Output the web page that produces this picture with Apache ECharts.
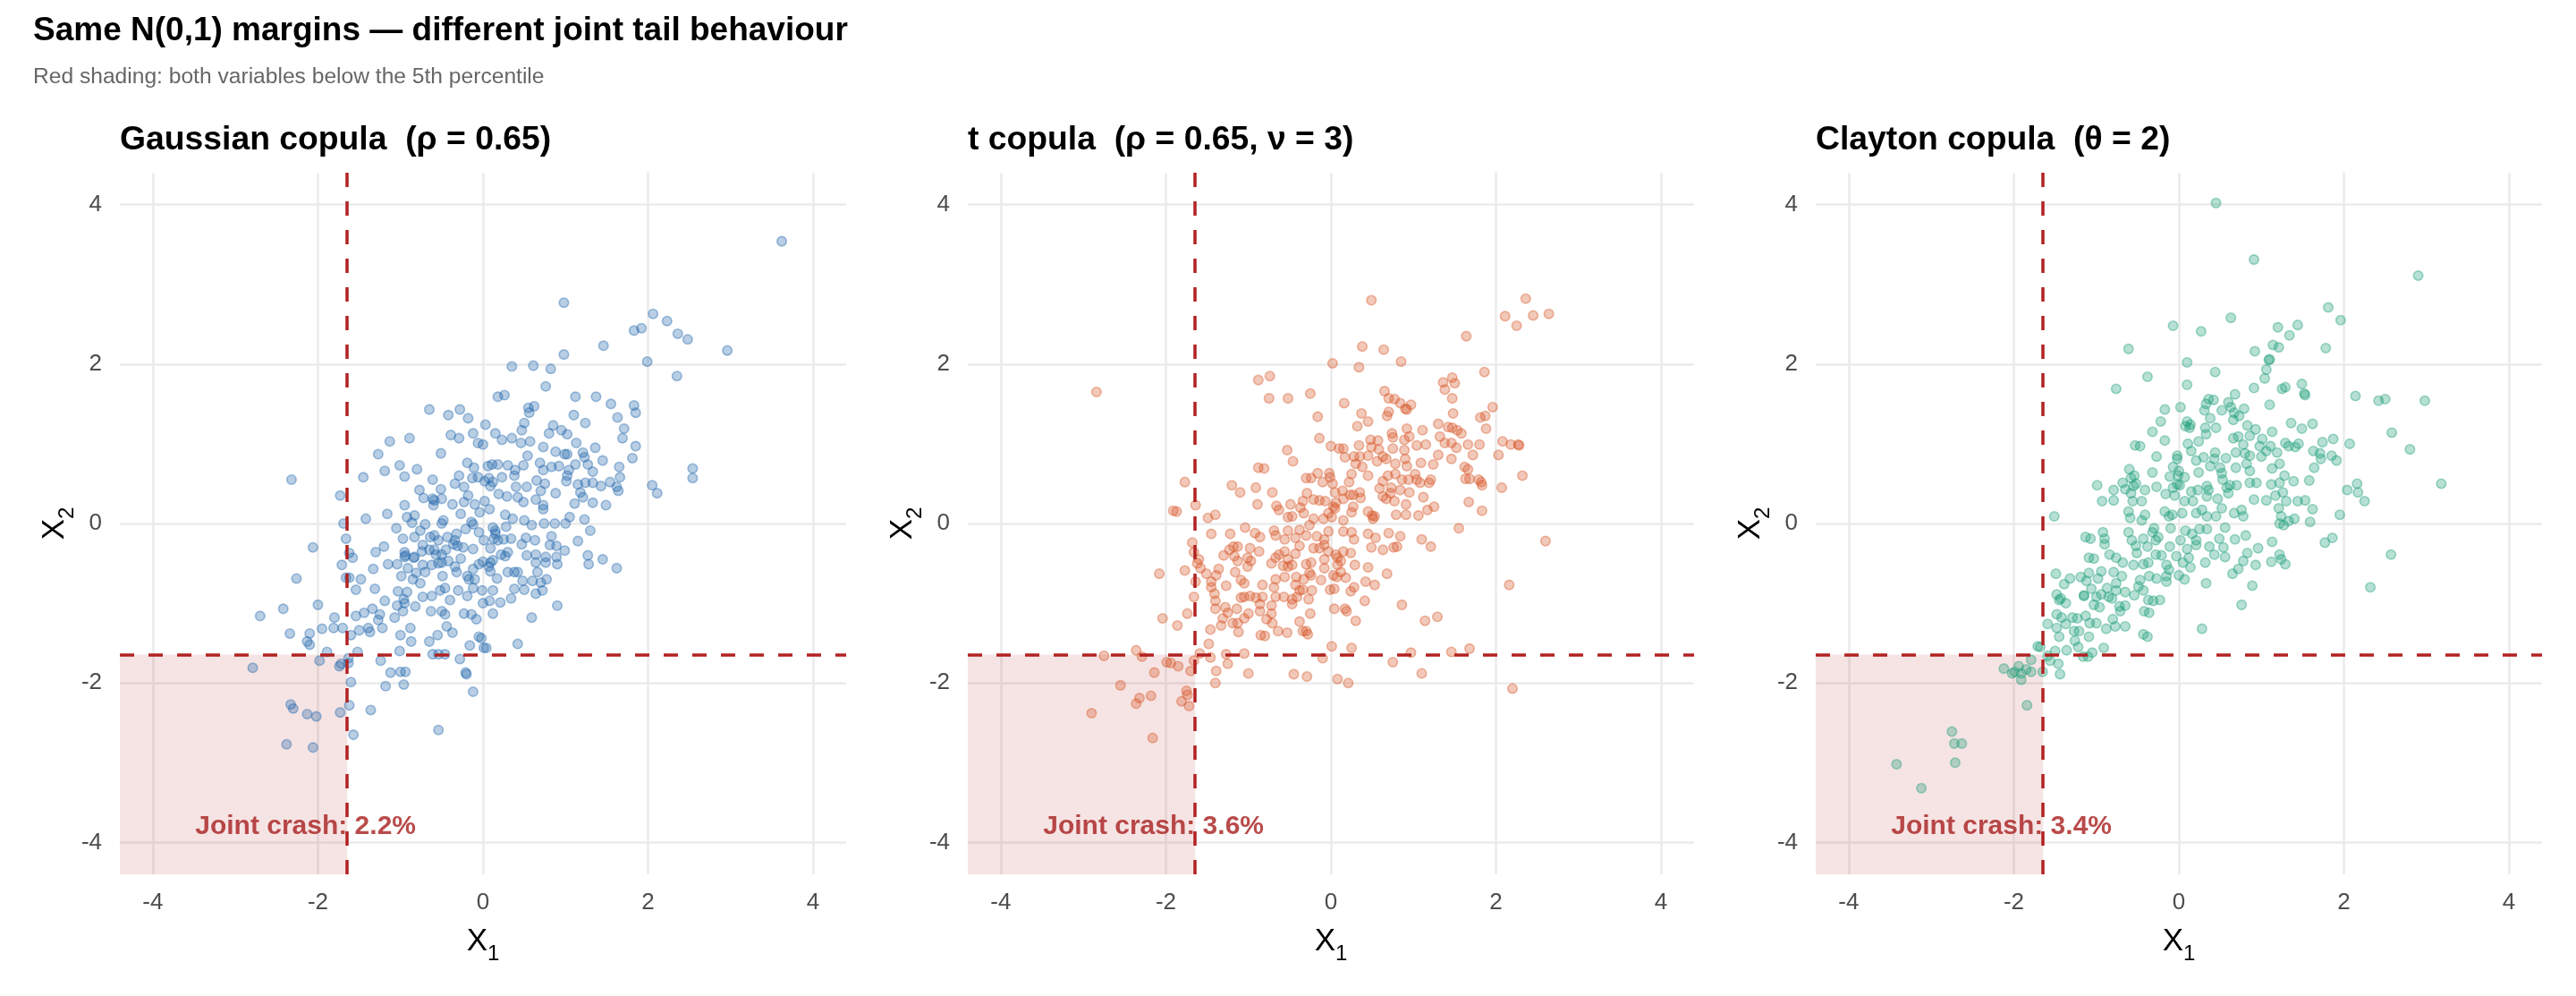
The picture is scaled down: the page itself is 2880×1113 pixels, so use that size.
<!DOCTYPE html>
<html>
<head>
<meta charset="utf-8">
<title>Copula joint tails</title>
<script src="https://cdn.jsdelivr.net/npm/echarts@6/dist/echarts.min.js"></script>
<style>
  html, body { margin: 0; padding: 0; background: #fff; }
  #chart { width: 2880px; height: 1113px; }
</style>
</head>
<body>
<div id="chart"></div>
<script>
// points, [x1, x2]
const gaussianPts = [
  [3.62,3.54],[0.98,2.77],[2.06,2.63],[2.23,2.54],[1.83,2.42],[1.92,2.45],[2.36,2.38],[2.48,2.31],[2.96,2.17],[1.46,2.23],
  [0.98,2.12],[1.99,2.03],[2.35,1.85],[0.35,1.97],[0.61,1.98],[0.82,1.94],[0.76,1.72],[0.18,1.59],[0.26,1.61],[1.12,1.59],
  [1.37,1.59],[1.55,1.50],[1.83,1.48],[1.85,1.39],[-0.65,1.43],[-0.42,1.36],[-0.28,1.43],[0.55,1.45],[0.62,1.47],[0.56,1.39],
  [-0.18,1.32],[0.03,1.24],[0.50,1.26],[0.47,1.17],[1.10,1.36],[1.24,1.26],[1.63,1.33],[1.71,1.19],[1.69,1.07],[1.85,0.97],
  [1.81,0.82],[0.85,1.23],[0.95,1.17],[1.02,1.12],[0.80,1.13],[1.13,1.01],[1.36,0.95],[-0.12,1.13],[0.15,1.13],[-0.39,1.11],
  [-0.29,1.07],[-0.06,1.01],[0.00,0.99],[0.23,1.05],[0.35,1.07],[0.46,1.01],[0.57,1.03],[0.73,0.96],[-1.13,1.03],[-0.89,1.07],
  [-1.27,0.87],[-0.51,0.88],[-2.32,0.55],[-1.45,0.58],[-1.19,0.66],[-1.01,0.73],[-0.80,0.68],[-0.95,0.59],[-1.73,0.35],[0.54,0.85],
  [0.88,0.90],[0.99,0.87],[1.02,0.87],[1.21,0.89],[1.23,0.83],[1.27,0.74],[1.45,0.79],[1.65,0.71],[1.66,0.58],[1.62,0.46],
  [1.64,0.41],[2.05,0.48],[2.11,0.38],[2.54,0.69],[2.54,0.57],[-0.19,0.76],[-0.11,0.70],[0.06,0.72],[0.11,0.74],[0.18,0.74],
  [0.30,0.73],[0.39,0.67],[0.49,0.73],[0.69,0.76],[0.73,0.67],[0.83,0.71],[0.92,0.72],[1.04,0.67],[1.12,0.74],[1.33,0.65],
  [-0.61,0.55],[-0.51,0.43],[-0.77,0.42],[-0.72,0.32],[-0.61,0.31],[-0.50,0.31],[-0.29,0.60],[-0.34,0.50],[-0.23,0.46],[-0.13,0.57],
  [-0.06,0.58],[0.02,0.53],[0.07,0.57],[0.12,0.52],[0.23,0.58],[0.09,0.47],[0.19,0.37],[0.29,0.34],[0.40,0.46],[0.38,0.60],
  [0.53,0.46],[0.65,0.54],[0.70,0.41],[0.75,0.50],[0.88,0.38],[1.01,0.53],[1.02,0.60],[1.15,0.49],[1.18,0.39],[1.24,0.51],
  [1.33,0.51],[1.43,0.47],[1.54,0.52],[1.21,0.33],[1.11,0.25],[1.33,0.26],[1.49,0.23],[-0.95,0.23],[-0.59,0.29],[-0.37,0.24],
  [-0.23,0.27],[-0.18,0.35],[-0.10,0.24],[0.02,0.28],[0.08,0.18],[0.42,0.33],[0.49,0.27],[0.64,0.30],[0.73,0.18],[0.73,0.23],
  [-1.16,0.12],[-0.92,0.08],[-0.83,0.10],[-1.42,0.06],[-0.27,0.12],[-0.04,0.14],[0.27,0.11],[1.05,0.08],[1.23,0.05],[-0.60,0.23],
  [-1.69,0.00],[-1.05,-0.06],[-0.86,0.01],[-0.70,-0.01],[-0.50,0.00],[-0.48,0.04],[-0.21,-0.07],[-0.14,0.02],[-0.12,-0.01],[-0.05,-0.11],
  [0.12,-0.05],[0.15,-0.09],[0.28,-0.04],[0.36,0.06],[0.50,0.04],[0.59,-0.02],[0.74,0.00],[0.87,0.00],[1.00,0.00],[1.30,-0.09],
  [1.15,-0.22],[1.27,-0.40],[1.28,-0.51],[1.45,-0.45],[1.62,-0.56],[-2.06,-0.30],[-2.26,-0.69],[-2.42,-1.07],[-2.70,-1.16],[-2.00,-1.02],
  [-2.34,-1.38],[-2.10,-1.38],[-2.13,-1.48],[-2.10,-1.52],[-1.95,-1.32],[-1.81,-1.31],[-1.80,-1.18],[-1.70,-1.31],[-1.89,-1.61],[-1.66,-0.19],
  [-1.62,-0.37],[-1.58,-0.43],[-1.71,-0.52],[-1.66,-0.68],[-1.62,-0.68],[-1.48,-0.70],[-1.54,-0.83],[-1.30,-0.36],[-1.20,-0.29],[-1.33,-0.57],
  [-1.31,-0.82],[-1.19,-0.97],[-1.54,-1.16],[-1.44,-1.12],[-1.34,-1.07],[-1.25,-1.14],[-1.27,-1.21],[-1.39,-1.31],[-1.37,-1.36],[-1.22,-1.31],
  [-1.50,-1.34],[-1.60,-1.40],[-1.52,-1.61],[-1.15,-0.51],[-1.04,-0.51],[-0.97,-0.19],[-0.95,-0.36],[-0.95,-0.42],[-0.83,-0.42],[-0.83,-0.17],
  [-0.76,-0.09],[-0.73,-0.27],[-0.64,-0.17],[-0.59,-0.15],[-0.43,-0.17],[-0.32,-0.13],[-0.36,-0.26],[-0.31,-0.28],[-0.24,-0.30],[-0.12,-0.32],
  [0.01,-0.21],[0.09,-0.31],[0.18,-0.21],[0.25,-0.20],[0.34,-0.19],[0.47,-0.26],[0.52,-0.18],[0.63,-0.21],[0.83,-0.16],[0.81,-0.27],
  [0.89,-0.28],[0.99,-0.34],[-0.94,-0.40],[-0.91,-0.56],[-0.84,-0.43],[-0.74,-0.35],[-0.65,-0.33],[-0.59,-0.33],[-0.57,-0.39],[-0.50,-0.39],
  [-0.45,-0.33],[-0.62,-0.52],[-0.54,-0.50],[-0.50,-0.49],[-0.42,-0.47],[-0.34,-0.54],[-0.27,-0.44],[-0.32,-0.61],[-0.19,-0.66],[-0.12,-0.57],
  [-0.05,-0.51],[0.00,-0.48],[0.09,-0.49],[0.09,-0.60],[0.12,-0.46],[0.22,-0.39],[0.27,-0.41],[0.30,-0.36],[0.53,-0.40],[0.64,-0.39],
  [0.76,-0.42],[0.64,-0.49],[0.76,-0.49],[0.89,-0.42],[0.90,-0.51],[0.30,-0.61],[0.38,-0.61],[0.42,-0.61],[0.66,-0.61],[0.48,-0.72],
  [0.60,-0.72],[0.70,-0.74],[0.77,-0.70],[0.50,-0.83],[0.64,-0.88],[0.72,-0.84],[0.38,-0.82],[0.34,-0.94],[0.21,-0.99],[0.00,-1.00],
  [0.12,-0.84],[0.17,-0.69],[-0.01,-0.84],[0.08,-0.97],[-0.12,-0.81],[-0.19,-0.91],[-0.30,-0.84],[-0.40,-0.96],[-0.46,-0.81],[-0.52,-0.84],
  [-0.62,-0.91],[-0.73,-0.92],[-0.82,-1.04],[-0.92,-0.86],[-1.03,-0.85],[-1.04,-1.03],[-0.95,-1.00],[-0.97,-1.10],[-1.07,-1.18],[-0.88,-1.31],
  [-1.00,-1.40],[-0.87,-1.48],[-1.01,-1.60],[-0.63,-1.10],[-0.55,-1.40],[-0.65,-1.48],[-0.50,-1.10],[-0.46,-1.14],[-0.44,-1.29],[-0.37,-1.37],
  [-0.23,-1.13],[-0.14,-1.14],[-0.08,-1.20],[0.12,-1.13],[-0.05,-1.42],[-0.02,-1.44],[-0.16,-1.53],[0.01,-1.56],[0.04,-1.56],[0.59,-1.18],
  [0.90,-1.03],[0.42,-1.51],[-0.61,-1.64],[-0.54,-1.64],[-0.46,-1.64],[-0.28,-1.70],[-0.21,-1.87],[-0.20,-1.89],[-0.12,-2.11],[-1.24,-1.72],
  [-1.12,-1.87],[-1.00,-1.86],[-0.94,-1.86],[-1.18,-2.04],[-0.96,-2.02],[-1.36,-2.34],[-0.54,-2.59],[-1.57,-2.65],[-1.60,-1.99],[-1.62,-2.28],
  [-1.73,-2.37],[-2.33,-2.27],[-2.30,-2.32],[-2.13,-2.39],[-2.02,-2.42],[-2.38,-2.77],[-2.06,-2.81],[-2.79,-1.81],[-1.98,-1.72],[-1.74,-1.79],
  [-1.72,-1.76],[-1.63,-1.75],[-1.63,-1.69],[-0.70,-0.61],[-0.85,-0.70],[-0.76,-0.75],[-0.99,-0.66],[-0.96,-0.95],[-0.49,-0.66],[-0.73,-0.52],
  [-0.81,-0.62],[-0.17,-0.70],[-0.10,-0.70],[0.07,-0.54],[0.13,-0.19],[0.15,-0.13],[-0.34,-0.21],[-0.54,-0.21]
]

const tPts = [
  [0.49,2.80],[2.36,2.82],[2.11,2.60],[2.45,2.61],[2.64,2.63],[2.25,2.48],[1.64,2.35],[0.38,2.22],[0.64,2.18],[0.02,2.01],
  [0.34,1.96],[0.85,2.03],[-2.84,1.65],[-0.88,1.80],[-0.74,1.85],[-0.75,1.57],[-0.52,1.57],[-0.25,1.63],[0.16,1.51],[0.65,1.66],
  [0.70,1.57],[0.77,1.56],[0.84,1.51],[0.97,1.49],[0.90,1.44],[0.92,1.43],[1.36,1.77],[1.47,1.83],[1.50,1.76],[1.38,1.68],
  [1.47,1.57],[1.86,1.90],[1.96,1.46],[1.48,1.38],[1.81,1.33],[1.87,1.35],[1.88,1.19],[-0.16,1.34],[0.37,1.38],[0.45,1.28],
  [0.32,1.22],[0.68,1.35],[0.70,1.40],[1.30,1.25],[1.42,1.21],[1.47,1.20],[1.53,1.17],[1.58,1.13],[0.92,1.19],[1.11,1.17],
  [-0.14,1.07],[0.74,1.13],[0.75,1.08],[0.95,1.09],[0.89,1.05],[1.32,1.09],[1.38,1.01],[1.46,1.01],[1.52,0.95],[1.66,0.99],
  [1.80,0.99],[2.08,1.03],[2.18,0.99],[2.27,0.99],[2.28,0.98],[2.03,0.86],[1.72,0.86],[1.30,0.86],[1.46,0.81],[1.24,0.74],
  [1.09,0.76],[1.04,0.98],[1.15,0.99],[0.48,1.05],[0.57,1.04],[0.49,0.96],[0.58,0.93],[0.75,0.94],[0.89,0.92],[0.00,0.97],
  [0.10,0.94],[0.15,0.94],[0.34,0.98],[0.17,0.83],[0.28,0.84],[0.35,0.84],[0.45,0.85],[0.56,0.78],[0.63,0.84],[0.67,0.81],
  [0.30,0.75],[0.38,0.71],[0.78,0.75],[0.90,0.81],[0.92,0.72],[-0.53,0.92],[-0.46,0.78],[-0.88,0.70],[-0.81,0.69],[-1.77,0.52],
  [-1.20,0.48],[-1.10,0.39],[-0.91,0.45],[-0.71,0.39],[-0.30,0.57],[-0.24,0.57],[-0.16,0.63],[-0.02,0.63],[-0.01,0.58],[-0.10,0.52],
  [0.02,0.50],[0.25,0.62],[0.22,0.52],[0.45,0.60],[0.69,0.60],[0.78,0.62],[0.86,0.55],[0.94,0.55],[1.02,0.62],[1.04,0.55],
  [1.08,0.51],[1.19,0.51],[1.21,0.55],[0.63,0.53],[0.59,0.44],[0.73,0.45],[0.84,0.42],[0.95,0.39],[1.62,0.71],[1.66,0.68],
  [1.63,0.56],[1.68,0.56],[1.79,0.55],[1.82,0.52],[1.83,0.48],[2.07,0.45],[2.32,0.60],[1.67,0.27],[1.83,0.16],[1.55,-0.06],
  [1.12,0.33],[1.25,0.21],[1.17,0.17],[1.06,0.10],[0.91,0.11],[0.79,0.11],[0.91,0.24],[0.77,0.28],[0.67,0.31],[0.63,0.34],
  [0.50,0.10],[0.51,0.06],[0.45,0.15],[0.36,0.32],[0.35,0.39],[0.27,0.36],[0.23,0.36],[0.15,0.31],[0.14,0.41],[0.05,0.39],
  [0.03,0.21],[0.05,0.19],[0.27,0.21],[0.25,0.14],[0.15,0.04],[0.01,0.08],[-0.09,0.06],[-0.14,0.29],[-0.07,0.28],[-0.21,0.30],
  [-0.29,0.38],[-0.34,0.28],[-0.37,0.20],[-0.33,0.13],[-0.21,0.06],[-0.47,0.09],[-0.52,0.08],[-0.49,0.24],[-0.66,0.22],[-0.63,0.17],
  [-0.89,0.24],[-1.40,0.11],[-1.49,0.07],[-1.64,0.23],[-1.91,0.16],[-1.87,0.15],[-1.04,-0.05],[0.72,0.38],[0.53,0.09],[-0.26,-0.02],
  [-0.03,0.13],[0.06,0.26],
  [-1.45,-0.13],[-1.22,-0.13],[-0.92,-0.12],[-0.86,-0.17],[-0.69,-0.09],[-0.52,-0.09],[-0.38,-0.08],[-0.67,-0.15],[-0.56,-0.20],[-0.43,-0.18],
  [-0.30,-0.15],[-0.17,-0.16],[-0.08,-0.20],[-0.03,-0.10],[0.15,-0.10],[0.25,-0.11],[0.28,-0.20],[0.45,-0.13],[0.54,-0.18],[0.70,-0.12],
  [0.84,-0.16],[1.10,-0.20],[1.21,-0.29],[2.60,-0.22],[-1.68,-0.24],[-1.66,-0.36],[-1.60,-0.45],[-1.62,-0.50],[-1.58,-0.56],[-1.77,-0.59],
  [-2.08,-0.63],[-1.64,-0.73],[-1.51,-0.63],[-1.45,-0.73],[-1.45,-0.80],[-1.39,-0.65],[-1.36,-0.57],[-1.27,-0.78],[-1.41,-0.88],[-1.40,-0.97],
  [-1.40,-1.07],[-1.66,-0.92],[-1.74,-1.13],[-2.04,-1.19],[-1.86,-1.28],[-1.46,-1.33],[-1.33,-1.28],[-1.31,-1.19],[-1.25,-1.12],[-1.28,-1.05],
  [-1.14,-1.07],[-1.19,-1.25],[-1.13,-1.25],[-1.12,-1.36],[-1.05,-1.19],[-1.00,-1.13],[-1.48,-1.51],[-1.30,-0.40],[-1.23,-0.33],[-1.18,-0.29],
  [-1.13,-0.29],[-1.17,-0.41],[-1.13,-0.47],[-1.01,-0.43],[-0.98,-0.31],[-0.97,-0.47],[-1.01,-0.54],[-0.87,-0.35],[-1.16,-0.61],[-1.09,-0.71],
  [-1.05,-0.75],[-1.09,-0.93],[-1.05,-0.92],[-0.98,-0.91],[-0.91,-0.93],[-0.83,-0.92],[-0.86,-1.01],[-0.86,-1.10],[-0.83,-0.77],[-0.72,-0.50],
  [-0.67,-0.43],[-0.63,-0.39],[-0.56,-0.35],[-0.52,-0.45],[-0.58,-0.53],[-0.52,-0.54],[-0.47,-0.52],[-0.43,-0.38],[-0.38,-0.28],[-0.30,-0.51],
  [-0.24,-0.49],[-0.26,-0.62],[-0.24,-0.65],[-0.33,-0.70],[-0.42,-0.67],[-0.56,-0.67],[-0.67,-0.70],[-0.69,-0.80],[-0.43,-0.77],[-0.38,-0.84],
  [-0.34,-0.83],[-0.23,-0.84],[-0.27,-0.95],[-0.41,-0.92],[-0.47,-0.95],[-0.47,-1.01],[-0.57,-0.92],[-0.67,-0.92],[-0.72,-1.03],[-0.72,-1.13],
  [-0.78,-1.20],[-0.71,-1.25],[-0.64,-1.35],[-0.53,-1.37],[-0.38,-1.23],[-0.34,-1.35],[-0.30,-1.35],[-0.28,-1.39],[-0.25,-1.13],[-0.85,-1.40],
  [-0.80,-1.41],[-0.12,-0.71],[-0.01,-0.83],[0.04,-0.82],[0.07,-0.67],[0.03,-0.65],[0.12,-0.61],[0.18,-0.68],[0.08,-0.52],[0.12,-0.47],
  [0.08,-0.43],[0.06,-0.39],[0.15,-0.35],[0.24,-0.37],[-0.08,-0.56],[-0.08,-0.45],[-0.03,-0.35],[-0.14,-0.31],[-0.21,-0.31],[-0.08,-0.27],
  [0.29,-0.52],[0.24,-0.85],[0.28,-0.80],[0.04,-1.07],[0.17,-1.07],[0.19,-1.10],[0.30,-1.22],[0.41,-0.97],[0.42,-0.73],[0.53,-0.77],
  [0.45,-0.55],[0.68,-0.63],[0.63,-0.33],[0.76,-0.30],[0.80,-0.29],[0.49,-0.30],[0.86,-1.02],[1.14,-1.22],[1.29,-1.17],[2.16,-0.77],
  [0.01,-1.54],[0.25,-1.56],[0.97,-1.62],[1.46,-1.61],[1.68,-1.57],[0.75,-1.74],[1.10,-1.88],[2.20,-2.07],[-0.10,-1.69],[0.08,-1.95],
  [0.21,-2.00],[-0.45,-1.89],[-0.29,-1.92],[-1.00,-1.88],[-1.05,-1.63],[-1.27,-1.64],[-1.25,-1.76],[-1.39,-1.85],[-1.40,-2.00],[-1.46,-1.68],
  [-1.59,-1.63],[-1.66,-1.72],[-1.70,-1.85],[-2.36,-1.59],[-2.29,-1.67],[-2.75,-1.66],[-1.99,-1.74],[-1.94,-1.75],[-1.85,-1.79],[-2.14,-1.87],
  [-2.55,-2.03],[-2.18,-2.16],[-2.32,-2.19],[-2.36,-2.26],[-1.75,-2.10],[-1.74,-2.15],[-1.81,-2.23],[-1.72,-2.29],[-2.90,-2.38],[-2.16,-2.69]
]

const claytonPts = [
  [0.45,4.02],[0.91,3.31],[2.90,3.11],[1.81,2.71],[1.96,2.55],[0.63,2.58],[-0.07,2.48],[0.27,2.41],[1.20,2.46],[1.44,2.49],
  [1.34,2.36],[-0.61,2.19],[0.92,2.16],[1.14,2.24],[1.21,2.21],[1.78,2.20],[0.10,2.02],[1.09,2.05],[1.10,2.06],[0.44,1.90],
  [1.06,1.93],[1.04,1.82],[-0.38,1.84],[-0.76,1.69],[0.10,1.74],[0.91,1.70],[1.25,1.69],[1.29,1.71],[1.49,1.75],[1.52,1.63],
  [1.53,1.61],[2.14,1.60],[2.42,1.54],[2.50,1.56],[2.98,1.54],[0.36,1.56],[0.42,1.55],[0.33,1.50],[0.68,1.62],[0.60,1.52],
  [0.79,1.44],[0.31,1.42],[0.52,1.42],[0.63,1.46],[0.67,1.39],[0.73,1.35],[0.66,1.30],[1.10,1.49],[0.02,1.46],[-0.17,1.43],
  [-0.22,1.28],[0.38,1.32],[0.10,1.28],[0.14,1.24],[0.08,1.22],[0.13,1.20],[0.32,1.20],[0.45,1.20],[-0.32,1.15],[-0.17,1.04],
  [-0.53,0.98],[-0.47,0.97],[0.33,1.12],[0.24,1.03],[0.11,1.00],[0.15,0.91],[0.83,1.23],[0.93,1.18],[1.13,1.15],[1.36,1.26],
  [1.49,1.19],[1.62,1.25],[0.86,1.10],[0.66,1.07],[0.72,1.09],[1.01,1.06],[0.78,0.99],[0.98,0.97],[1.11,0.97],[1.06,0.91],
  [1.19,0.89],[1.29,1.01],[1.33,0.97],[1.45,1.00],[1.41,0.96],[1.74,1.02],[1.87,1.06],[2.07,1.00],[2.58,1.14],[2.80,0.93],
  [1.63,0.91],[1.71,0.88],[1.72,0.81],[1.85,0.85],[1.91,0.79],[1.64,0.70],[-0.27,0.84],[-0.02,0.85],[-0.02,0.81],[0.21,0.79],
  [0.30,0.83],[0.44,0.89],[0.43,0.81],[0.38,0.72],[0.57,0.82],[0.69,0.89],[0.80,0.88],[0.86,0.85],[0.82,0.75],[1.00,0.84],
  [0.69,0.70],[0.50,0.70],[0.86,0.66],[1.13,0.69],[1.22,0.75],[-0.60,0.68],[-0.32,0.64],[-0.07,0.71],[0.00,0.66],[0.24,0.64],
  [-0.11,0.59],[0.07,0.58],[0.53,0.55],[-0.54,0.60],[-0.68,0.51],[-0.52,0.50],[-0.99,0.48],[-0.79,0.42],[-0.65,0.43],[-0.41,0.42],
  [-0.27,0.46],[-0.02,0.49],[-0.07,0.45],[0.01,0.48],[0.15,0.40],[0.23,0.42],[0.34,0.47],[0.36,0.42],[0.58,0.45],[0.70,0.48],
  [0.86,0.51],[0.94,0.51],[1.12,0.49],[1.22,0.51],[1.28,0.60],[1.39,0.53],[1.58,0.54],[2.16,0.50],[2.04,0.42],[2.17,0.39],
  [2.25,0.28],[3.18,0.50],[-0.93,0.28],[-0.79,0.29],[-0.56,0.28],[-0.45,0.28],[-0.16,0.37],[-0.05,0.35],[0.07,0.28],[0.17,0.28],
  [0.34,0.34],[0.47,0.31],[0.60,0.38],[0.91,0.30],[1.06,0.29],[1.17,0.35],[1.26,0.39],[1.30,0.28],[1.44,0.28],[1.53,0.29],
  [-0.58,0.38],[-0.55,0.47],[-0.58,0.57],[-0.01,0.60],[0.52,0.63],[0.62,0.48],
  [-1.51,0.09],[-0.61,0.15],[-0.59,0.07],[-0.45,0.04],[-0.41,0.11],[-0.17,0.15],[-0.12,0.09],[-0.08,0.11],[0.04,0.13],[0.21,0.13],
  [0.28,0.17],[0.34,0.09],[0.45,0.09],[0.52,0.19],[0.67,0.13],[0.76,0.17],[0.78,0.09],[1.21,0.19],[1.24,0.09],[1.22,0.00],
  [1.27,-0.02],[1.33,0.03],[1.40,0.06],[1.62,0.18],[1.59,0.02],[1.95,0.11],[1.77,-0.24],[1.86,-0.18],[2.57,-0.39],[2.32,-0.80],
  [1.13,-0.23],[0.96,-0.31],[0.81,-0.15],[0.68,-0.20],[0.56,-0.05],[1.12,-0.48],[1.22,-0.39],[1.24,-0.45],[1.29,-0.51],[0.93,-0.52],
  [0.83,-0.37],[0.78,-0.47],[0.72,-0.57],[0.65,-0.63],[0.56,-0.42],[0.49,-0.19],[0.54,-0.30],[0.43,-0.39],[0.37,-0.29],[0.32,-0.49],
  [0.34,-0.07],[0.25,-0.07],[0.21,-0.21],[0.21,-0.27],[0.16,-0.13],[0.08,-0.09],[0.02,-0.21],[0.10,-0.32],[0.12,-0.43],[0.05,-0.49],
  [0.14,-0.55],[0.07,-0.70],[0.00,-0.65],[-0.03,-0.41],[-0.10,-0.06],[-0.25,-0.17],[-0.28,-0.21],[-0.32,-0.11],[-0.30,-0.06],[-0.43,-0.19],
  [-0.38,-0.29],[-0.52,-0.28],[-0.57,-0.21],[-0.61,-0.11],[-0.51,-0.37],[-0.28,-0.39],[-0.21,-0.40],[-0.11,-0.29],[-0.15,-0.52],[-0.12,-0.58],
  [-0.15,-0.66],[-0.15,-0.73],[-0.27,-0.69],[-0.36,-0.66],[-0.37,-0.49],[-0.43,-0.51],[-0.55,-0.52],[-0.68,-0.49],[-0.76,-0.43],[-0.84,-0.39],
  [-0.92,-0.11],[-0.90,-0.19],[-0.90,-0.26],[-1.13,-0.17],[-1.07,-0.19],[-1.09,-0.43],[-1.03,-0.44],[-0.79,-0.61],[-0.94,-0.60],[-1.09,-0.62],
  [-1.19,-0.67],[-1.32,-0.69],[-1.49,-0.63],[-1.39,-0.76],[-1.12,-0.72],[-0.98,-0.69],[-0.76,-0.75],[-0.69,-0.66],[-0.47,-0.71],[-0.49,-0.79],
  [-0.54,-0.90],[-0.43,-0.84],[-0.37,-0.96],[-0.23,-0.96],[-0.31,-0.97],[-0.87,-0.81],[-0.76,-0.84],[-0.65,-0.86],[-0.94,-0.89],[-0.85,-0.92],
  [-1.06,-0.82],[-1.15,-0.90],[-1.00,-0.92],[-1.03,-1.02],[-0.96,-1.05],[-0.81,-0.94],[-0.72,-1.04],[-0.71,-1.10],[-0.65,-1.03],[-1.48,-0.89],
  [-1.45,-0.96],[-1.37,-1.00],[-1.43,-0.94],[-1.15,-0.91],[-0.42,-1.10],[-0.36,-1.12],[-1.48,-1.14],[-1.42,-1.18],[-1.37,-1.26],[-1.29,-1.18],
  [-1.23,-1.19],[-1.13,-1.16],[-1.59,-1.26],[-1.48,-1.31],[-1.45,-1.42],[-1.27,-1.35],[-1.21,-1.35],[-1.08,-1.25],[-1.00,-1.25],[-1.09,-1.42],
  [-0.88,-1.32],[-0.80,-1.20],[-0.77,-1.29],[-0.65,-1.29],[-1.26,-1.47],[-1.22,-1.55],[-0.43,-1.39],[-0.38,-1.42],[0.28,-1.32],[0.33,-0.75],
  [0.76,-1.02],[0.89,-0.78],[-1.71,-1.54],[-1.68,-1.55],[-1.50,-1.60],[-1.36,-1.59],[-0.91,-1.56],[-1.05,-1.62],[-1.16,-1.67],[-1.10,-1.67],
  [-1.59,-1.66],[-1.56,-1.72],[-1.46,-1.76],[-1.44,-1.89],[-1.65,-1.86],[-1.79,-1.71],[-1.79,-1.86],[-1.94,-1.79],[-1.91,-1.88],[-1.91,-1.96],
  [-2.02,-1.88],[-2.12,-1.82],[-1.99,-1.86],[-1.84,-2.28],[-2.75,-2.61],[-2.72,-2.76],[-2.63,-2.76],[-2.71,-3.00],[-3.42,-3.02],[-3.12,-3.32],
  [-1.85,-1.83]
]

const panelTitles = [
  'Gaussian copula  (\u03c1 = 0.65)',
  't copula  (\u03c1 = 0.65, \u03bd = 3)',
  'Clayton copula  (\u03b8 = 2)'
]
const crashLabels = ['Joint crash: 2.2%', 'Joint crash: 3.6%', 'Joint crash: 3.4%']
const pointColors = ['33,102,172', '216,84,38', '27,158,119']
const tickValues = [-4, -2, 0, 2, 4]
const q05 = -1.645          // 5th percentile of N(0,1)
const axisMin = -4.4, axisMax = 4.4
const crashLabelAt = [-2.15, -3.8]

const FONT = '"Liberation Sans", Arial, sans-serif'
const RED = '#B22222'
const panels = [gaussianPts, tPts, claytonPts]
const lefts = [134, 1082, 2030]

let grids = [], xAxes = [], yAxes = [], series = []
let titles = [
  {
    text: 'Same N(0,1) margins \u2014 different joint tail behaviour',
    left: 37, top: 16, padding: 0,
    textStyle: { fontFamily: FONT, fontSize: 37, fontWeight: 'bold', color: '#000' }
  },
  {
    text: 'Red shading: both variables below the 5th percentile',
    left: 37, top: 74, padding: 0,
    textStyle: { fontFamily: FONT, fontSize: 24.6, fontWeight: 'normal', color: '#666' }
  }
]

const nameStyle = {
  fontFamily: FONT, fontSize: 35, color: '#000',
  rich: { s: { fontFamily: FONT, fontSize: 24, color: '#000', verticalAlign: 'bottom', lineHeight: 52 } }
}

panels.forEach((pts, i) => {
  grids.push({ left: lefts[i], top: 193, width: 812, height: 784 })
  titles.push({
    text: panelTitles[i],
    left: lefts[i], top: 138, padding: 0,
    textStyle: { fontFamily: FONT, fontSize: 37.3, fontWeight: 'bold', color: '#000' }
  })
  const axisCommon = {
    type: 'value', gridIndex: i, min: axisMin, max: axisMax,
    axisLine: { show: false },
    axisTick: { show: false, customValues: tickValues },
    axisLabel: { customValues: tickValues, fontFamily: FONT, fontSize: 26, color: '#4D4D4D' },
    splitLine: { show: true, lineStyle: { color: '#EBEBEB', width: 2.5 } },
    nameLocation: 'middle',
    nameTextStyle: nameStyle
  }
  xAxes.push(Object.assign({}, axisCommon, {
    name: 'X{s|1}', nameGap: 49,
    axisLabel: Object.assign({}, axisCommon.axisLabel, { margin: 19 })
  }))
  yAxes.push(Object.assign({}, axisCommon, {
    name: 'X{s|2}', nameGap: 37, nameRotate: 90,
    axisLabel: Object.assign({}, axisCommon.axisLabel, { margin: 20 })
  }))

  // joint-crash quadrant shading
  series.push({
    type: 'scatter', xAxisIndex: i, yAxisIndex: i, data: [], z: 1, silent: true,
    markArea: {
      silent: true,
      itemStyle: { color: 'rgba(178,34,34,0.12)' },
      data: [[{ coord: [axisMin, q05] }, { coord: [q05, axisMin] }]]
    }
  })
  // points
  series.push({
    type: 'scatter', xAxisIndex: i, yAxisIndex: i, z: 2,
    data: pts, symbolSize: 10.5,
    itemStyle: {
      color: 'rgba(' + pointColors[i] + ',0.4)',
      borderColor: 'rgba(' + pointColors[i] + ',0.5)',
      borderWidth: 1.6
    }
  })
  // 5th percentile thresholds
  series.push({
    type: 'scatter', xAxisIndex: i, yAxisIndex: i, data: [], z: 3, silent: true,
    markLine: {
      silent: true, symbol: 'none', animation: false,
      label: { show: false },
      lineStyle: { color: RED, width: 3.5, type: [16, 16] },
      data: [{ xAxis: q05 }, { yAxis: q05 }]
    }
  })
  // joint crash label
  series.push({
    type: 'scatter', xAxisIndex: i, yAxisIndex: i, z: 4, silent: true,
    data: [crashLabelAt], symbolSize: 1,
    itemStyle: { color: 'rgba(0,0,0,0)' },
    label: {
      show: true, position: 'inside', formatter: crashLabels[i],
      fontFamily: FONT, fontSize: 30, fontWeight: 'bold', color: '#A81E1E'
    }
  })
})

const chart = echarts.init(document.getElementById('chart'))
chart.setOption({
  animation: false,
  backgroundColor: '#fff',
  title: titles,
  grid: grids,
  xAxis: xAxes,
  yAxis: yAxes,
  series: series
})
</script>
</body>
</html>
